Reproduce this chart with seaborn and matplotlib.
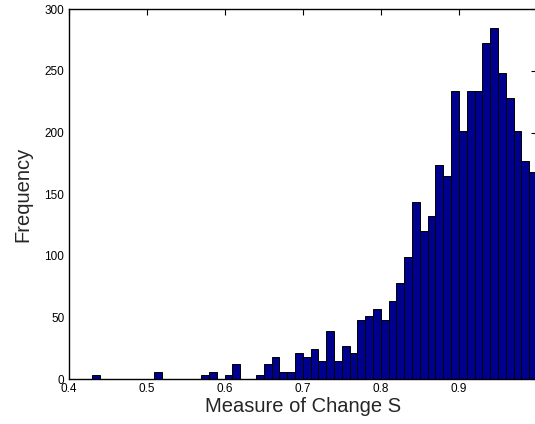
import matplotlib
matplotlib.use("Agg")
import matplotlib.pyplot as plt
import seaborn as sns
import numpy as np
import pandas as pd

# Bin left edges (width 0.01) and counts
bin_left = [0.43, 0.44, 0.45, 0.46, 0.47, 0.48, 0.49, 0.50, 0.51, 0.52,
            0.53, 0.54, 0.55, 0.56, 0.57, 0.58, 0.59, 0.60, 0.61, 0.62,
            0.63, 0.64, 0.65, 0.66, 0.67, 0.68, 0.69, 0.70, 0.71, 0.72,
            0.73, 0.74, 0.75, 0.76, 0.77, 0.78, 0.79, 0.80, 0.81, 0.82,
            0.83, 0.84, 0.85, 0.86, 0.87, 0.88, 0.89, 0.90, 0.91, 0.92,
            0.93, 0.94, 0.95, 0.96, 0.97, 0.98, 0.99]
counts = [3, 0, 0, 0, 0, 0, 0, 0, 6, 0,
          0, 0, 0, 0, 3, 6, 0, 3, 12, 0,
          0, 3, 12, 18, 6, 6, 21, 18, 24, 15,
          39, 15, 27, 21, 48, 51, 57, 48, 63, 78,
          99, 144, 120, 132, 174, 165, 234, 201, 234, 234,
          273, 285, 248, 228, 201, 177, 168]
x_ticks = [0.4, 0.5, 0.6, 0.7, 0.8, 0.9, 1.0]
x_tick_labels = ["0.4", "0.5", "0.6", "0.7", "0.8", "0.9", "1"]
y_ticks = [0, 50, 100, 150, 200, 250, 300]

sns.set_style("white")
plt.rcParams['font.family'] = ['Liberation Sans', 'DejaVu Sans']

bin_width = 0.01
df = pd.DataFrame({"S": np.array(bin_left) + bin_width / 2, "count": counts})

fig = plt.figure(figsize=(5.35, 4.24), dpi=100)
ax = fig.add_axes([68.5 / 535, 45 / 424, (537 - 68.5) / 535, (379 - 9.3) / 424])

sns.histplot(data=df, x="S", weights="count", binwidth=bin_width,
             binrange=(bin_left[0], bin_left[-1] + bin_width), ax=ax,
             color="#00008F", edgecolor="black", linewidth=0.7, alpha=1.0)

ax.set_xlim(0.4, 1.0)
ax.set_ylim(0, 300)
ax.set_xticks(x_ticks)
ax.set_xticklabels(x_tick_labels)
ax.set_yticks(y_ticks)
ax.tick_params(direction="in", top=True, right=True, length=4, width=0.8,
               labelsize=8.5, colors="black", pad=3)
for s in ax.spines.values():
    s.set_visible(True)
    s.set_color("black")
    s.set_linewidth(1.0)
ax.set_xlabel("Measure of Change S", fontsize=14.5, labelpad=1)
ax.set_ylabel("Frequency", fontsize=14.5, labelpad=9)

fig.savefig("out.png", dpi=100)
